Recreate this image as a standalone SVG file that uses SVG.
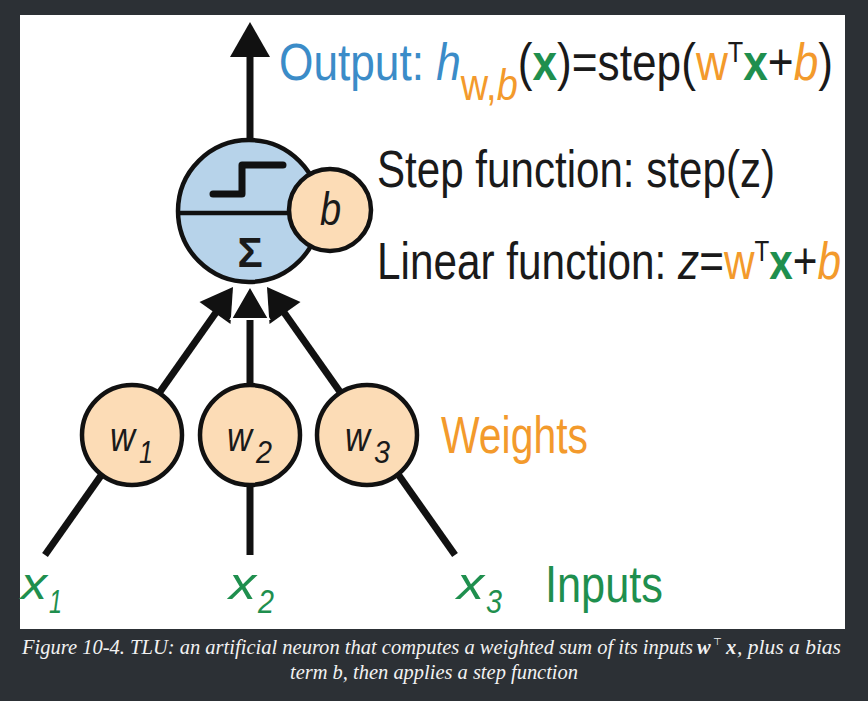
<svg xmlns="http://www.w3.org/2000/svg" width="868" height="701" viewBox="0 0 868 701">
<style>
.sans{font-family:"Liberation Sans","Open Sans",Arial,sans-serif}
.blk{fill:#1a1a1a}
.blue{fill:#3b8cc8}
.org{fill:#f39a2c}
.grn{fill:#1f8f4e}
.it{font-style:italic}
.bd{font-weight:bold}
.big{font-size:42px}
.line{stroke:#111;stroke-width:7;fill:none}
.ring{stroke:#111;stroke-width:4.5}
.wfill{fill:#fcdcb6}
.wl{font-size:40px}
.ws{font-size:32px}
.xl{font-size:44px}
.xs{font-size:34px}
.cap{font-family:"Liberation Serif","Times New Roman",serif;font-style:italic;fill:#f2f2f2;font-size:20.5px}
</style>
<rect x="0" y="0" width="868" height="701" fill="#2c3035"/>
<rect x="20" y="15" width="825" height="614" fill="#ffffff"/>

<g id="connectors">
  <line class="line" x1="250" y1="139" x2="250" y2="54"/>
  <polygon points="250,22 230,57 270,57" fill="#111"/>
  <line class="line" x1="45" y1="555" x2="217" y2="311"/>
  <line class="line" x1="455" y1="555" x2="283" y2="311"/>
  <line class="line" x1="250" y1="555" x2="250" y2="314"/>
  <polygon points="233,287 230.5,324 199.5,302" fill="#111"/>
  <polygon points="267,287 269.5,324 300.5,302" fill="#111"/>
  <polygon points="250,286 231,319 269,319" fill="#111" stroke="#fff" stroke-width="2" stroke-linejoin="miter"/>
</g>

<g id="neuron">
  <circle cx="249" cy="211" r="71" fill="#b7d3ea" class="ring"/>
  <line x1="178" y1="213" x2="300" y2="213" stroke="#111" stroke-width="4.5"/>
  <polyline points="213,194 242,194 242,165 283,165" fill="none" stroke="#111" stroke-width="7" stroke-linecap="round" stroke-linejoin="round"/>
  <text x="250" y="267" text-anchor="middle" class="sans blk bd" font-size="42">Σ</text>
</g>

<g id="bias">
  <circle cx="330" cy="210" r="41" class="ring wfill"/>
  <g transform="translate(320,225) scale(1,1.2)"><text x="0" y="0" class="sans blk it" font-size="38">b</text></g>
</g>

<g id="w1">
  <circle cx="132" cy="435" r="50" class="ring wfill"/>
  <text x="110" y="451" class="sans blk it wl" textLength="25" lengthAdjust="spacingAndGlyphs">w</text>
  <text x="139" y="463" class="sans blk it ws" textLength="14" lengthAdjust="spacingAndGlyphs">1</text>
</g>
<g id="w2">
  <circle cx="250" cy="435" r="50" class="ring wfill"/>
  <text x="227" y="451" class="sans blk it wl" textLength="25" lengthAdjust="spacingAndGlyphs">w</text>
  <text x="256" y="463" class="sans blk it ws" textLength="16" lengthAdjust="spacingAndGlyphs">2</text>
</g>
<g id="w3">
  <circle cx="367" cy="435" r="50" class="ring wfill"/>
  <text x="345" y="451" class="sans blk it wl" textLength="25" lengthAdjust="spacingAndGlyphs">w</text>
  <text x="374" y="463" class="sans blk it ws" textLength="16" lengthAdjust="spacingAndGlyphs">3</text>
</g>

<g id="x1">
  <text x="21" y="599" class="sans grn it xl" textLength="26" lengthAdjust="spacingAndGlyphs">x</text>
  <text x="49" y="613" class="sans grn it xs" textLength="13" lengthAdjust="spacingAndGlyphs">1</text>
</g>
<g id="x2">
  <text x="229" y="599" class="sans grn it xl" textLength="27" lengthAdjust="spacingAndGlyphs">x</text>
  <text x="258" y="613" class="sans grn it xs" textLength="16" lengthAdjust="spacingAndGlyphs">2</text>
</g>
<g id="x3">
  <text x="457" y="599" class="sans grn it xl" textLength="27" lengthAdjust="spacingAndGlyphs">x</text>
  <text x="486" y="613" class="sans grn it xs" textLength="16" lengthAdjust="spacingAndGlyphs">3</text>
</g>

<g id="output-label" class="sans" transform="translate(279,80) scale(1,1.22)">
  <text x="0" y="0" class="big" textLength="554" lengthAdjust="spacingAndGlyphs"><tspan class="blue">Output: </tspan><tspan class="blue it">h</tspan><tspan class="org" dy="16" font-size="36">w,<tspan class="it">b</tspan></tspan><tspan class="blk" dy="-16">(</tspan><tspan class="grn bd">x</tspan><tspan class="blk">)=step(</tspan><tspan class="org">w</tspan><tspan class="blk" dy="-15" font-size="24">T</tspan><tspan class="grn bd" dy="15">x</tspan><tspan class="blk">+</tspan><tspan class="org it">b</tspan><tspan class="blk">)</tspan></text>
</g>

<g id="step-label" class="sans" transform="translate(377,187) scale(1,1.22)">
  <text x="0" y="0" class="blk big" textLength="398" lengthAdjust="spacingAndGlyphs">Step function: step(z)</text>
</g>

<g id="linear-label" class="sans" transform="translate(377,279) scale(1,1.22)">
  <text x="0" y="0" class="big" textLength="464" lengthAdjust="spacingAndGlyphs"><tspan class="blk">Linear function: </tspan><tspan class="blk it">z</tspan><tspan class="blk">=</tspan><tspan class="org">w</tspan><tspan class="blk" dy="-15" font-size="24">T</tspan><tspan class="grn bd" dy="15">x</tspan><tspan class="blk">+</tspan><tspan class="org it">b</tspan></text>
</g>

<g id="weights-label" class="sans" transform="translate(441,453) scale(1,1.22)">
  <text x="0" y="0" class="org big" textLength="147" lengthAdjust="spacingAndGlyphs">Weights</text>
</g>
<g id="inputs-label" class="sans" transform="translate(545,602) scale(1,1.22)">
  <text x="0" y="0" class="grn big" textLength="118" lengthAdjust="spacingAndGlyphs">Inputs</text>
</g>

<g id="caption">
  <text x="22" y="654" class="cap" textLength="671" lengthAdjust="spacingAndGlyphs">Figure 10-4. TLU: an artificial neuron that computes a weighted sum of its inputs</text>
  <text x="697" y="654" class="cap" font-weight="bold">w</text>
  <text x="713" y="645" fill="#f2f2f2" font-family="'DejaVu Sans',sans-serif" font-size="10">⊤</text>
  <text x="726" y="654" class="cap" font-weight="bold">x</text>
  <text x="737" y="654" class="cap" textLength="104" lengthAdjust="spacingAndGlyphs">, plus a bias</text>
  <text x="434" y="679" class="cap" text-anchor="middle" textLength="288" lengthAdjust="spacingAndGlyphs">term b, then applies a step function</text>
</g>
</svg>
